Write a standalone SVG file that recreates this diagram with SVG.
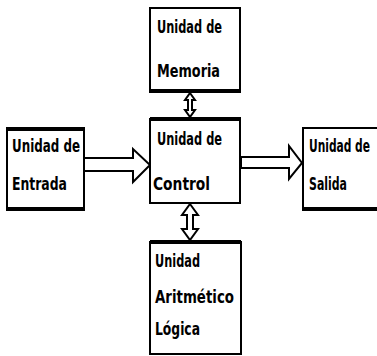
<svg xmlns="http://www.w3.org/2000/svg" width="377" height="356" viewBox="0 0 377 356">
<style>
.box{fill:#fff;stroke:#000;stroke-width:2}
.edge{stroke:#000;stroke-width:4;fill:none}
.t{font-family:"DejaVu Sans Condensed","DejaVu Sans",sans-serif;font-weight:bold;font-size:18px;fill:#000}
.arr{fill:#fff;stroke:#000;stroke-width:2;stroke-linejoin:miter}
</style>
<rect width="377" height="356" fill="#fff"/>
<g id="connectors">
<polygon class="arr" points="84,158 133,158 133,149 150,165 133,182 133,171 84,171"/>
<polygon class="arr" points="241,157 289,157 289,146 302,163 289,179 289,168 241,168"/>
<polygon class="arr" points="190,93 195,100 192,100 192,110 195,110 190,117 185,110 188,110 188,100 185,100"/>
<polygon class="arr" points="190,204 198,215 193,215 193,229 198,229 190,240 182,229 187,229 187,215 182,215"/>
</g>
<g id="memoria">
<rect class="box" x="150" y="8" width="90" height="84"/>
<line class="edge" x1="150" y1="91" x2="241" y2="91"/>
<text class="t" x="157" y="33" textLength="65" lengthAdjust="spacingAndGlyphs">Unidad de</text>
<text class="t" x="157" y="77" textLength="63" lengthAdjust="spacingAndGlyphs">Memoria</text>
</g>
<g id="control">
<rect class="box" x="150" y="119" width="90" height="84"/>
<line class="edge" x1="150" y1="119" x2="241" y2="119"/>
<text class="t" x="157" y="145" textLength="65" lengthAdjust="spacingAndGlyphs">Unidad de</text>
<text class="t" x="153" y="190" textLength="57" lengthAdjust="spacingAndGlyphs">Control</text>
</g>
<g id="entrada">
<rect class="box" x="7" y="128" width="77" height="82"/>
<line class="edge" x1="7" y1="129" x2="84" y2="129"/>
<line class="edge" x1="7" y1="209" x2="84" y2="209"/>
<text class="t" x="12" y="152" textLength="68" lengthAdjust="spacingAndGlyphs">Unidad de</text>
<text class="t" x="12" y="190" textLength="55" lengthAdjust="spacingAndGlyphs">Entrada</text>
</g>
<g id="salida">
<rect class="box" x="303" y="128" width="80" height="82"/>
<line class="edge" x1="303" y1="209" x2="377" y2="209"/>
<text class="t" x="309" y="152" textLength="61" lengthAdjust="spacingAndGlyphs">Unidad de</text>
<text class="t" x="309" y="190" textLength="38" lengthAdjust="spacingAndGlyphs">Salida</text>
</g>
<g id="alu">
<rect class="box" x="150" y="242" width="91" height="112"/>
<line class="edge" x1="150" y1="242" x2="241" y2="242"/>
<text class="t" x="155" y="267" textLength="45" lengthAdjust="spacingAndGlyphs">Unidad</text>
<text class="t" x="155" y="303" textLength="79" lengthAdjust="spacingAndGlyphs">Aritmético</text>
<text class="t" x="155" y="335" textLength="45" lengthAdjust="spacingAndGlyphs">Lógica</text>
</g>
</svg>
